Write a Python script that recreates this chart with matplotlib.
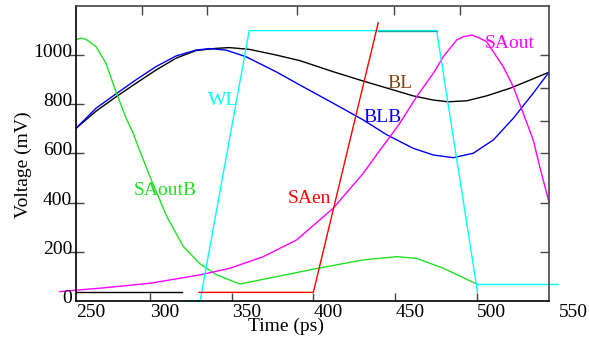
import matplotlib
matplotlib.use("Agg")
import matplotlib.pyplot as plt

plt.rcParams["font.family"] = ["Liberation Serif", "DejaVu Serif"]

# time in ps, voltage in mV
bl_t = [254.7, 267.0, 279.2, 291.4, 303.7, 315.9, 328.1, 340.4, 348.5, 360.7, 377.1,
        391.7, 412.1, 430.5, 444.8, 461.0, 473.3, 482.4, 493.7, 505.9, 520.2, 532.4, 544.0]
bl_v = [702, 772, 830, 885, 939, 987, 1018, 1027, 1030, 1023, 1000,
        977, 932, 894, 866, 834, 817, 810, 814, 834, 865, 898, 930]

blb_t = [254.7, 267.0, 279.2, 291.4, 303.7, 315.9, 328.1, 336.3, 346.5, 358.7, 377.1,
         391.7, 412.1, 430.5, 444.8, 461.0, 473.3, 485.5, 497.7, 510.0, 522.2, 534.4, 544.0]
blb_v = [702, 784, 842, 899, 953, 996, 1020, 1026, 1020, 993, 932,
         878, 804, 736, 676, 621, 594, 583, 601, 655, 743, 845, 930]

saoutb_t = [254.7, 257.7, 260.8, 267.0, 273.1, 279.2, 285.3, 289.7, 293.5, 300.0, 310.2,
            320.4, 330.6, 340.8, 355.0, 402.9, 430.5, 450.9, 463.1, 479.4, 499.8]
saoutb_v = [1062, 1068, 1064, 1034, 966, 851, 745, 682, 615, 506, 345,
            222, 152, 107, 70, 134, 168, 181, 174, 134, 70]

saout_t = [244.9, 254.7, 269.4, 300.0, 330.6, 348.9, 369.3, 389.7, 412.1, 430.5, 440.7,
           446.8, 453.0, 463.1, 473.3, 479.4, 487.6, 491.6, 496.8, 501.8, 505.9, 516.1,
           522.2, 528.3, 534.4, 538.5, 544.0]
saout_v = [39, 45, 53, 73, 107, 134, 181, 249, 378, 520, 614,
           668, 725, 831, 926, 993, 1061, 1074, 1081, 1068, 1054, 952,
           871, 763, 655, 543, 404]

wl_t = [320.8, 330.6, 360.7, 475.3, 500.3]
wl_v = [0, 0, 1099, 1099, 38]
wl_tail_t = [499.8, 549.3]
wl_tail_v = [69, 69]
wl_dark_t = [439.6, 475.3]
wl_dark_v = [1099, 1099]

saen_t = [330.0, 399.9, 439.6]
saen_v = [36, 36, 1131]

low_t = [254.7, 319.6]
low_v = [36, 36]

xticks = [300, 350, 400, 450, 500]
xlabels = [250, 300, 350, 400, 450, 500, 550]
yticks = [200, 400, 600, 800, 1000]
ylabels = [0, 200, 400, 600, 800, 1000]
top_ticks = [294.9, 334.7, 389.8, 449.3, 489.7]
right_ticks = [200, 400, 600, 733, 865, 1000]

fig = plt.figure(figsize=(5.89, 3.49), dpi=100)
ax = fig.add_axes([76 / 589, (349 - 301.25) / 349, 473 / 589, 295.5 / 349])
ax.set_xlim(254.74, 544.04)
ax.set_ylim(0, 1200)

lw = 1.0
ax.plot(bl_t, bl_v, color="black", lw=lw)
ax.plot(blb_t, blb_v, color="#0000ff", lw=lw)
ax.plot(saoutb_t, saoutb_v, color="#22e022", lw=lw)
ax.plot(saout_t, saout_v, color="#ff00ff", lw=lw, clip_on=False)
ax.plot(wl_t, wl_v, color="#00ffff", lw=lw, clip_on=False)
ax.plot(wl_tail_t, wl_tail_v, color="#00ffff", lw=lw, clip_on=False)
ax.plot(wl_dark_t, wl_dark_v, color="#1fa5a5", lw=lw)
ax.plot(saen_t, saen_v, color="#ff0000", lw=lw, clip_on=False)
ax.plot(low_t, low_v, color="black", lw=lw)

fs = 14
ax.text(444.9, 865, "BL", color="#8b4513", fontsize=fs, va="baseline")
ax.text(430.5, 729, "BLB", color="#0000ff", fontsize=fs, va="baseline")
ax.text(504.9, 1027, "SAout", color="#ff00ff", fontsize=fs, va="baseline")
ax.text(335.2, 797, "WL", color="#00ffff", fontsize=fs, va="baseline")
ax.text(289.8, 431, "SAoutB", color="#22e022", fontsize=fs, va="baseline")
ax.text(384.3, 398, "SAen", color="#ff0000", fontsize=fs, va="baseline")

# frame and ticks
for side in ["left", "bottom"]:
    ax.spines[side].set_color("black")
    ax.spines[side].set_linewidth(1.2)
for side in ["top", "right"]:
    ax.spines[side].set_color("#444444")
    ax.spines[side].set_linewidth(1.2)

ax.set_xticks(xticks)
ax.set_yticks(yticks)
ax.set_xticklabels([])
ax.set_yticklabels([])
ax.tick_params(axis="x", direction="in", length=6, width=1, color="#444444")
ax.tick_params(axis="y", direction="inout", length=12, width=1, color="#444444")

top = ax.secondary_xaxis("top")
top.set_xticks(top_ticks)
top.tick_params(direction="in", length=6.5, width=1, color="#444444", labeltop=False)
top.spines["top"].set_visible(False)
right = ax.secondary_yaxis("right")
right.set_yticks(right_ticks)
right.tick_params(direction="in", length=6.5, width=1, color="#444444", labelright=False)
right.spines["right"].set_visible(False)

for v in xlabels:
    ax.text(max(v, 254.74), -63, str(v), fontsize=fs, ha="left", va="baseline", clip_on=False)
for v in ylabels:
    ax.text(252.3, v - 8, str(v), fontsize=fs, ha="right", va="baseline", clip_on=False)

fig.text(248.3 / 589, (349 - 331) / 349, "Time (ps)", fontsize=fs, ha="left", va="baseline")
fig.text(23.3 / 589, 1 - 164.2 / 349, "Voltage (mV)", fontsize=fs, rotation=90,
         ha="center", va="center")

fig.savefig("out.png", dpi=100)
plt.close(fig)
